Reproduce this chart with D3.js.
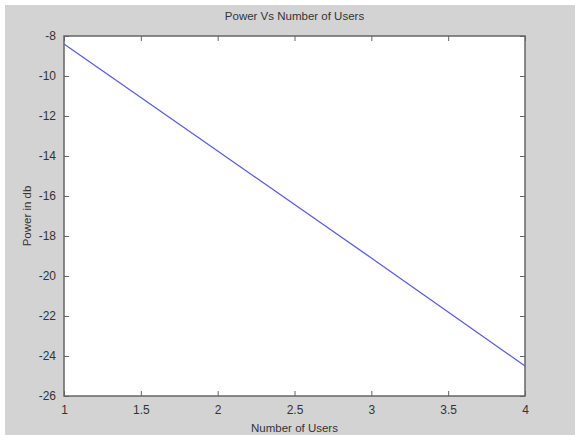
<!DOCTYPE html>
<html>
<head>
<meta charset="utf-8">
<script src="https://cdn.jsdelivr.net/npm/d3@7"></script>
<style>
  html, body { margin: 0; padding: 0; background: #ffffff; }
  svg { display: block; font-family: Arial, "Liberation Sans", sans-serif; }
</style>
</head>
<body>
<div id="chart"></div>
<script>
// Data
const users = [1, 2, 3, 4];
const powerDb = [-8.4, -13.75, -19.1, -24.5];
const xTicks = [1, 1.5, 2, 2.5, 3, 3.5, 4];
const yTicks = [-26, -24, -22, -20, -18, -16, -14, -12, -10, -8];

const width = 575;
const height = 435;
const margin = { top: 36, right: 50, bottom: 39, left: 64 };

const svg = d3.select("#chart")
    .append("svg")
    .attr("width", width)
    .attr("height", height);

// figure background (MATLAB grey) with thin white edge top/left
svg.append("rect")
    .attr("x", 5).attr("y", 5)
    .attr("width", width - 5).attr("height", height - 5)
    .attr("fill", "#d3d3d3");

const xScale = d3.scaleLinear()
    .domain([1, 4])
    .range([margin.left, width - margin.right]);

const yScale = d3.scaleLinear()
    .domain([-26, -8])
    .range([height - margin.bottom, margin.top]);

const x0 = xScale.range()[0], x1 = xScale.range()[1];
const y0 = yScale.range()[1], y1 = yScale.range()[0];

// white axes area
svg.append("rect")
    .attr("x", x0).attr("y", y0)
    .attr("width", x1 - x0).attr("height", y1 - y0)
    .attr("fill", "#ffffff");

// data line
const line = d3.line()
    .x((d, i) => xScale(users[i]))
    .y(d => yScale(d));

svg.append("path")
    .datum(powerDb)
    .attr("d", line)
    .attr("fill", "none")
    .attr("stroke", "#5c5cdc")
    .attr("stroke-width", 1.3);

// axes, ticks pointing inward like MATLAB
const axisColor = "#666666";
const textColor = "#333333";
const tickLen = 5;
const plainFormat = d => String(d); // plain hyphen minus, like MATLAB

function styleAxis(g) {
    g.select(".domain").remove();
    g.selectAll(".tick line").attr("stroke", axisColor).attr("stroke-width", 1);
    g.selectAll(".tick text").attr("fill", textColor).attr("font-size", "12px");
}

svg.append("g")
    .attr("transform", `translate(0, ${y1})`)
    .call(d3.axisBottom(xScale).tickValues(xTicks).tickSizeInner(-tickLen).tickSizeOuter(0).tickPadding(9).tickFormat(plainFormat))
    .call(styleAxis);

svg.append("g")
    .attr("transform", `translate(0, ${y0})`)
    .call(d3.axisTop(xScale).tickValues(xTicks).tickSizeInner(-tickLen).tickSizeOuter(0).tickFormat(""))
    .call(styleAxis);

svg.append("g")
    .attr("transform", `translate(${x0}, 0)`)
    .call(d3.axisLeft(yScale).tickValues(yTicks).tickSizeInner(-tickLen).tickSizeOuter(0).tickPadding(8).tickFormat(plainFormat))
    .call(styleAxis);

svg.append("g")
    .attr("transform", `translate(${x1}, 0)`)
    .call(d3.axisRight(yScale).tickValues(yTicks).tickSizeInner(-tickLen).tickSizeOuter(0).tickFormat(""))
    .call(styleAxis);

// box
svg.append("rect")
    .attr("x", x0).attr("y", y0)
    .attr("width", x1 - x0).attr("height", y1 - y0)
    .attr("fill", "none")
    .attr("stroke", axisColor)
    .attr("stroke-width", 1.5);

// title and labels
svg.append("text")
    .attr("x", (x0 + x1) / 2)
    .attr("y", 20)
    .attr("text-anchor", "middle")
    .attr("font-size", "11.5px")
    .attr("fill", textColor)
    .text("Power Vs Number of Users");

svg.append("text")
    .attr("x", (x0 + x1) / 2)
    .attr("y", 432)
    .attr("text-anchor", "middle")
    .attr("font-size", "11.5px")
    .attr("fill", textColor)
    .text("Number of Users");

svg.append("text")
    .attr("transform", `translate(31, ${(y0 + y1) / 2}) rotate(-90)`)
    .attr("text-anchor", "middle")
    .attr("font-size", "11.5px")
    .attr("fill", textColor)
    .text("Power in db");
</script>
</body>
</html>
